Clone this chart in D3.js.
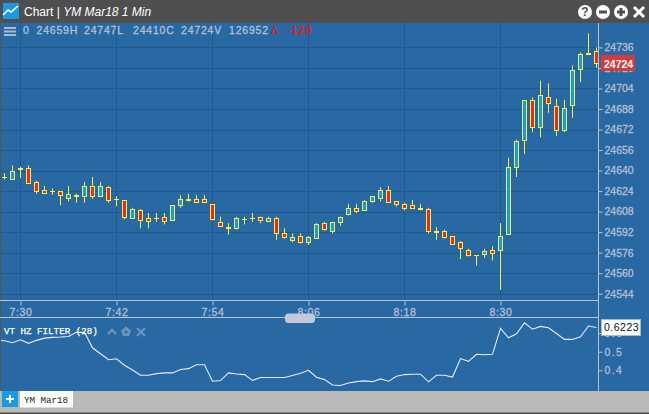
<!DOCTYPE html>
<html>
<head>
<meta charset="utf-8">
<title>YM Mar18 1 Min</title>
<script src="https://d3js.org/d3.v7.min.js"></script>
<style>
  body { margin: 0; background: #b9b9b9; }
  svg { display: block; font-family: "Liberation Sans", Arial, sans-serif; }
  .tick-text text { fill: #b4bfd4; stroke: #b4bfd4; stroke-width: 0.3px; font-size: 10.5px; }
  .mono { font-family: "Liberation Mono", monospace; }
</style>
</head>
<body>
<div id="chart"></div>
<script>
const WIDTH = 649;
const HEIGHT = 414;

// One minute bars, starting at 7:28 (minutes after midnight)
const firstMinute = 448;
const opens = [24635,24634,24642,24642,24631,24625,24624,24624,24619,24621,24620,24628,24620,24627,24618,24617,24603,24609,24603,24603,
  24604,24601,24613,24618,24618,24618,24614,24600,24596,24595,24602,24603,24604,24601,24603,24591,24586,24589,24584,24587,
  24599,24593,24600,24606,24611,24609,24616,24619,24625,24616,24614,24613,24611,24610,24593,24593,24589,24584,24578,24574,
  24575,24578,24578,24591,24643,24664,24695,24674,24697,24690,24672,24691,24719,24731,24733];
const highs = [24638,24644,24643,24644,24632,24628,24626,24624,24628,24622,24631,24635,24631,24628,24620,24617,24611,24610,24607,24607,
  24607,24613,24621,24622,24621,24621,24614,24604,24599,24604,24604,24607,24604,24604,24604,24595,24591,24591,24589,24599,
  24600,24600,24604,24614,24614,24617,24620,24627,24628,24616,24615,24617,24614,24611,24596,24594,24589,24585,24579,24574,
  24579,24581,24599,24650,24664,24695,24697,24710,24708,24696,24695,24722,24732,24747,24736];
const lows = [24633,24634,24634,24630,24622,24622,24621,24613,24616,24615,24615,24618,24620,24615,24612,24602,24603,24595,24595,24600,
  24598,24601,24611,24616,24615,24615,24601,24597,24590,24594,24598,24600,24599,24601,24586,24587,24584,24583,24582,24587,
  24593,24591,24597,24605,24607,24609,24615,24616,24615,24612,24609,24610,24609,24591,24586,24587,24582,24571,24573,24566,
  24572,24570,24547,24591,24635,24653,24670,24666,24685,24667,24670,24681,24709,24731,24720];
const closes = [24635,24640,24641,24630,24624,24623,24624,24621,24622,24620,24628,24620,24628,24617,24618,24604,24610,24601,24601,24603,
  24601,24613,24618,24617,24616,24616,24602,24597,24595,24603,24602,24603,24602,24603,24591,24588,24588,24584,24588,24598,
  24594,24600,24604,24611,24609,24616,24620,24625,24616,24614,24611,24611,24610,24593,24592,24588,24583,24579,24574,24574,
  24577,24576,24589,24643,24663,24695,24674,24699,24692,24671,24689,24718,24731,24732,24724];

// VT HZ Filter, starting one minute earlier (7:27)
const filterStart = 447;
const filterValues = [0.562,0.559,0.548,0.564,0.545,0.561,0.573,0.577,0.579,0.582,0.604,0.604,0.521,0.489,0.457,0.462,0.427,0.402,0.373,0.373,
  0.382,0.386,0.386,0.404,0.409,0.430,0.430,0.341,0.345,0.386,0.380,0.377,0.346,0.361,0.361,0.361,0.361,0.372,0.384,0.400,
  0.363,0.350,0.321,0.318,0.332,0.339,0.343,0.339,0.354,0.341,0.368,0.377,0.379,0.379,0.338,0.373,0.373,0.364,0.463,0.448,
  0.486,0.484,0.486,0.625,0.575,0.596,0.655,0.621,0.636,0.629,0.598,0.566,0.566,0.580,0.638,0.630];

const timeTicks = [450, 462, 474, 486, 498, 510];
const priceTicks = [24544,24560,24576,24592,24608,24624,24640,24656,24672,24688,24704,24720,24736];
const filterTicks = [0.4, 0.5, 0.6];
const headerItems = [["0", 23], ["24659H", 36.5], ["24747L", 84], ["24410C", 133], ["24724V", 181], ["126952", 229]];

const BLUE_BG = "#2869a4";
const GRID = "#20598c";
const AXIS = "#b9c2d6";
const WICK = "#ffee3d";

const svg = d3.select("#chart").append("svg").attr("width", WIDTH).attr("height", HEIGHT);

const xScale = d3.scaleLinear().domain([450, 510]).range([20.5, 500.5]);
const yScale = d3.scaleLinear().domain([24544, 24736]).range([293.7, 47.4]);
const filterScale = d3.scaleLinear().domain([0.4, 0.5]).range([370.3, 351.7]);

function fmtTime(m) {
  return Math.floor(m / 60) + ":" + String(m % 60).padStart(2, "0");
}

// Window frame
svg.append("rect").attr("width", WIDTH).attr("height", HEIGHT).attr("fill", "#b9b9b9");
svg.append("rect").attr("width", WIDTH).attr("height", 23).attr("fill", "#4f4f4f");
svg.append("rect").attr("y", 23).attr("width", WIDTH).attr("height", 368).attr("fill", BLUE_BG);
svg.append("rect").attr("y", 23).attr("width", 1).attr("height", 368).attr("fill", "#555");
svg.append("rect").attr("y", 412.5).attr("width", WIDTH).attr("height", 1.5).attr("fill", "#4f4f4f");

// Clip for the marks so nothing runs past the price axis
svg.append("clipPath").attr("id", "plot-clip").append("rect")
  .attr("x", 1).attr("y", 23).attr("width", 597).attr("height", 277);
svg.append("clipPath").attr("id", "filter-clip").append("rect")
  .attr("x", 1).attr("y", 318).attr("width", 597).attr("height", 73);

// Grid
svg.append("g").selectAll("line").data(priceTicks).enter().append("line")
  .attr("x1", 1).attr("x2", 598)
  .attr("y1", d => Math.round(yScale(d)) + 0.5).attr("y2", d => Math.round(yScale(d)) + 0.5)
  .attr("stroke", GRID);
svg.append("g").selectAll("line").data(timeTicks).enter().append("line")
  .attr("x1", d => xScale(d)).attr("x2", d => xScale(d))
  .attr("y1", 23).attr("y2", 300)
  .attr("stroke", GRID);

// Candles
const bars = opens.map((o, i) => ({ minute: firstMinute + i, o: o, h: highs[i], l: lows[i], c: closes[i] }));
const candles = svg.append("g").attr("clip-path", "url(#plot-clip)")
  .selectAll("g").data(bars).enter().append("g");

candles.append("line")
  .attr("x1", d => xScale(d.minute)).attr("x2", d => xScale(d.minute))
  .attr("y1", d => yScale(d.h)).attr("y2", d => yScale(d.l))
  .attr("stroke", WICK);
candles.filter(d => d.o !== d.c).append("rect")
  .attr("x", d => xScale(d.minute) - 2)
  .attr("y", d => Math.round(yScale(Math.max(d.o, d.c))) + 0.5)
  .attr("width", 4)
  .attr("height", d => Math.max(1, Math.round(Math.abs(yScale(d.o) - yScale(d.c)))))
  .attr("fill", d => d.c > d.o ? "#169bdc" : "#d5332c")
  .attr("stroke", WICK);
candles.filter(d => d.o === d.c).append("line")
  .attr("x1", d => xScale(d.minute) - 2.5).attr("x2", d => xScale(d.minute) + 2.5)
  .attr("y1", d => Math.round(yScale(d.o)) + 0.5).attr("y2", d => Math.round(yScale(d.o)) + 0.5)
  .attr("stroke", WICK);

// Filter line
const filterLine = d3.line()
  .x((d, i) => xScale(filterStart + i))
  .y(d => filterScale(d));
svg.append("path").datum(filterValues)
  .attr("clip-path", "url(#filter-clip)")
  .attr("d", filterLine)
  .attr("fill", "none")
  .attr("stroke", "#e6edf5")
  .attr("stroke-width", 1.1);

// Axes
const xAxis = d3.axisBottom(xScale).tickValues(timeTicks).tickFormat(fmtTime).tickSize(5).tickPadding(3);
const xG = svg.append("g").attr("class", "tick-text").attr("transform", "translate(0,300.5)").call(xAxis);
xG.select(".domain").remove();
xG.selectAll("text").attr("font-family", null).attr("font-size", null).style("letter-spacing", "0.6px");
xG.selectAll("line").attr("stroke", AXIS);

const yAxis = d3.axisRight(yScale).tickValues(priceTicks).tickFormat(d3.format("d")).tickSize(4).tickPadding(2);
const yG = svg.append("g").attr("class", "tick-text").attr("transform", "translate(598.5,0)").call(yAxis);
yG.select(".domain").remove();
yG.selectAll("text").attr("font-family", null).attr("font-size", null);
yG.selectAll("line").attr("stroke", AXIS);

const fAxis = d3.axisRight(filterScale).tickValues(filterTicks).tickFormat(d3.format(".1f")).tickSize(4).tickPadding(2);
const fG = svg.append("g").attr("class", "tick-text").attr("transform", "translate(598.5,0)").call(fAxis);
fG.select(".domain").remove();
fG.selectAll("text").attr("font-family", null).attr("font-size", null).style("letter-spacing", "1.4px");
fG.selectAll("line").attr("stroke", AXIS);

svg.append("line").attr("x1", 0).attr("x2", 598.5).attr("y1", 300.5).attr("y2", 300.5).attr("stroke", AXIS);
svg.append("line").attr("x1", 0).attr("x2", 598.5).attr("y1", 317.5).attr("y2", 317.5).attr("stroke", AXIS);
svg.append("line").attr("x1", 598.5).attr("x2", 598.5).attr("y1", 23).attr("y2", 391).attr("stroke", AXIS);

// Panel resize handle
svg.append("rect").attr("x", 285).attr("y", 313.5).attr("width", 30).attr("height", 9.5).attr("rx", 3.5)
  .attr("fill", "#c3c8da");

// Current price and filter tags
svg.append("rect").attr("x", 601).attr("y", 55).attr("width", 34).attr("height", 16).attr("fill", "#d63b3b");
svg.append("text").attr("x", 604).attr("y", 67.5).attr("fill", "#fff")
  .style("font-size", "10.5px").style("font-weight", "bold").text(closes[closes.length - 1]);
svg.append("rect").attr("x", 601.5).attr("y", 319.5).attr("width", 39).attr("height", 16)
  .attr("fill", "#fff").attr("stroke", "#a9b6cc");
svg.append("text").attr("x", 604).attr("y", 331).attr("fill", "#111")
  .style("font-size", "10.5px").style("letter-spacing", "0.5px").text("0.6223");

// Title bar
svg.append("rect").attr("x", 3).attr("y", 3).attr("width", 16).attr("height", 16).attr("fill", "#1a9be0");
svg.append("polyline").attr("points", "3,15 8,10 11,12 18,6")
  .attr("fill", "none").attr("stroke", "#fff").attr("stroke-width", 1.6);
svg.append("text").attr("x", 24).attr("y", 16).attr("fill", "#fff").style("font-size", "12px")
  .text("Chart | ")
  .append("tspan").style("font-style", "italic").text("YM Mar18 1 Min");

const iconCx = [585, 603, 621];
svg.append("g").selectAll("circle").data(iconCx).enter().append("circle")
  .attr("cx", d => d).attr("cy", 12).attr("r", 7).attr("fill", "#fff");
svg.append("text").attr("x", 585).attr("y", 16).attr("text-anchor", "middle").attr("fill", "#4f4f4f")
  .style("font-size", "12px").style("font-weight", "bold").text("?");
svg.append("rect").attr("x", 599).attr("y", 10.5).attr("width", 8).attr("height", 3).attr("fill", "#4f4f4f");
svg.append("rect").attr("x", 617).attr("y", 10.5).attr("width", 8).attr("height", 3).attr("fill", "#4f4f4f");
svg.append("rect").attr("x", 619.5).attr("y", 8).attr("width", 3).attr("height", 8).attr("fill", "#4f4f4f");
svg.append("path").attr("d", "M634,7L644,17M644,7L634,17").attr("stroke", "#fff").attr("stroke-width", 3);

// Hamburger menu
svg.append("path").attr("d", "M4,28H16M4,31.5H16M4,35H16").attr("stroke", "#a8bbd4").attr("stroke-width", 1.8);

// Quote header
svg.append("g").selectAll("text").data(headerItems).enter().append("text")
  .attr("x", d => d[1]).attr("y", 33.5).attr("fill", "#b4bfd4").attr("stroke", "#b4bfd4").attr("stroke-width", 0.3)
  .style("font-size", "10.5px").style("letter-spacing", "0.8px")
  .text(d => d[0]);
svg.append("text").attr("x", 271).attr("y", 33.5).attr("fill", "#ee1111").style("font-size", "10.5px").text("Δ");
svg.append("text").attr("x", 287).attr("y", 33.5).attr("fill", "#ee1111").attr("stroke", "#ee1111").attr("stroke-width", 0.3)
  .style("font-size", "10.5px").style("letter-spacing", "1px").text("-128");

// Indicator title and controls
svg.append("text").attr("class", "mono").attr("x", 4).attr("y", 334).attr("fill", "#fff").attr("stroke", "#fff").attr("stroke-width", 0.25)
  .style("font-size", "9.2px").text("VT HZ FILTER (28)");
svg.append("path").attr("d", "M108,334L112,330L116,334").attr("fill", "none").attr("stroke", "#6e93b9").attr("stroke-width", 2.4);
svg.append("path").attr("d", "M126,326.5L131,330.5L129,336H123L121,330.5Z").attr("fill", "#6e93b9");
svg.append("circle").attr("cx", 126).attr("cy", 332).attr("r", 1.6).attr("fill", BLUE_BG);
svg.append("path").attr("d", "M137,328L145,336M145,328L137,336").attr("stroke", "#6e93b9").attr("stroke-width", 2.2);

// Bottom tab
svg.append("rect").attr("x", 2).attr("y", 391).attr("width", 16).attr("height", 16).attr("fill", "#1a9be0");
svg.append("path").attr("d", "M6,399H14M10,395V403").attr("stroke", "#fff").attr("stroke-width", 2);
svg.append("rect").attr("x", 20).attr("y", 391).attr("width", 53).attr("height", 16.5).attr("fill", "#fff");
svg.append("text").attr("class", "mono").attr("x", 24).attr("y", 403).attr("fill", "#222")
  .style("font-size", "9.2px").text("YM Mar18");
</script>
</body>
</html>
